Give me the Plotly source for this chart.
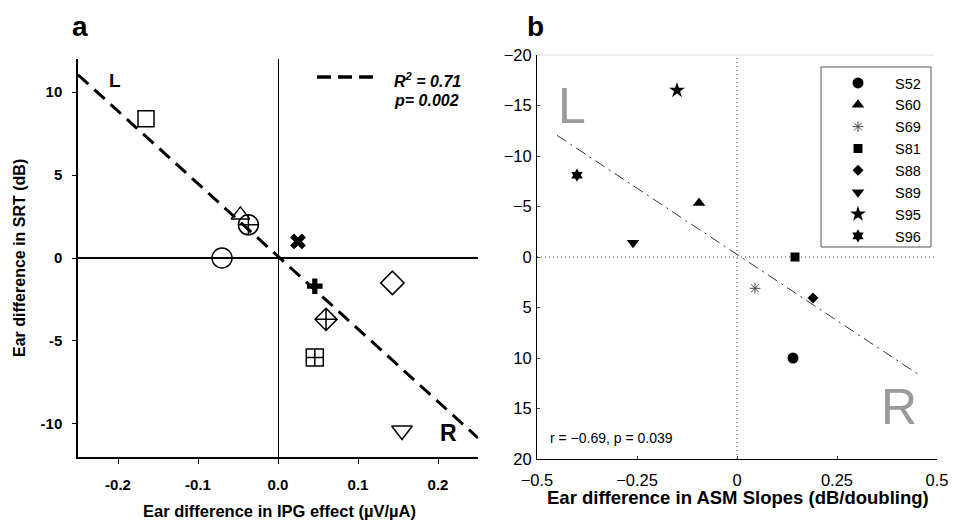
import plotly.graph_objects as go

# ---------------- Panel a data ----------------
a_x = [-0.165, -0.047, -0.037, -0.070, 0.025, 0.046, 0.143, 0.060, 0.046, 0.155]
a_y = [8.4, 2.6, 2.0, 0.0, 1.0, -1.7, -1.5, -3.7, -6.0, -10.4]
a_symbols = ["square-open", "triangle-up-open", "circle-cross-open", "circle-open", "x",
             "cross", "diamond-open", "diamond-cross-open", "square-cross-open", "triangle-down-open"]
a_sizes = [16, 16, 20, 20, 14, 13, 18, 17, 17, 18]
a_fit_x = [-0.25, 0.25]
a_fit_y = [11.05, -10.85]
a_xticks = [-0.2, -0.1, 0.0, 0.1, 0.2]
a_xticktext = ["-0.2", "-0.1", "0.0", "0.1", "0.2"]
a_yticks = [-10, -5, 0, 5, 10]
a_yticktext = ["-10", "-5", "0", "5", "10"]

# ---------------- Panel b data ----------------
b_names = ["S52", "S60", "S69", "S81", "S88", "S89", "S95", "S96"]
b_x = [0.14, -0.095, 0.045, 0.145, 0.19, -0.26, -0.15, -0.40]
b_y = [10.0, -5.35, 3.1, 0.0, 4.05, -1.4, -16.5, -8.1]
b_symbols = ["circle", "triangle-up", "asterisk-open", "square", "diamond",
             "triangle-down", "star", "hexagram"]
b_sizes = [11, 11, 9, 9, 8.5, 11, 12, 10]
b_fit_x = [-0.45, 0.46]
b_fit_y = [-12.05, 11.8]
b_xticks = [-0.5, -0.25, 0, 0.25, 0.5]
b_xticktext = ["\u22120.5", "\u22120.25", "0", "0.25", "0.5"]
b_yticks = [-20, -15, -10, -5, 0, 5, 10, 15, 20]
b_yticktext = ["\u221220", "\u221215", "\u221210", "\u22125", "0", "5", "10", "15", "20"]

W, H = 953, 521
def px(x):
    return x / W
def py(y):
    return 1 - y / H

FONT = "Liberation Sans, Arial, Helvetica, sans-serif"

fig = go.Figure()

# Panel a fit line
fig.add_trace(go.Scatter(x=a_fit_x, y=a_fit_y, mode="lines", xaxis="x", yaxis="y",
                         line=dict(color="black", width=3, dash="14px,8px"),
                         showlegend=False, hoverinfo="skip"))
for xx, yy, s, sz in zip(a_x, a_y, a_symbols, a_sizes):
    filled = not s.endswith("-open")
    fig.add_trace(go.Scatter(
        x=[xx], y=[yy], mode="markers", xaxis="x", yaxis="y", showlegend=False,
        marker=dict(symbol=s, size=sz, color="black",
                    line=dict(color="black", width=0 if filled else 1.5)),
        cliponaxis=False))

# Panel b fit line
fig.add_trace(go.Scatter(x=b_fit_x, y=b_fit_y, mode="lines", xaxis="x2", yaxis="y2",
                         line=dict(color="#333333", width=1, dash="11px,5px,2px,5px"),
                         showlegend=False, hoverinfo="skip"))
for name, xx, yy, s, sz in zip(b_names, b_x, b_y, b_symbols, b_sizes):
    col = "#444444" if s == "asterisk-open" else "black"
    fig.add_trace(go.Scatter(
        x=[xx], y=[yy], mode="markers", xaxis="x2", yaxis="y2", name=name,
        marker=dict(symbol=s, size=sz, color=col,
                    line=dict(color=col, width=1 if s == "asterisk-open" else 0)),
        cliponaxis=False))

axis_a_common = dict(showgrid=False, showline=True, linecolor="black", linewidth=1.5,
                     ticks="outside", tickcolor="black", tickwidth=1.2, automargin=False,
                     tickfont=dict(family=FONT, size=15, color="black", weight="bold"),
                     zeroline=True, zerolinecolor="black")

shapes = [
    dict(type="line", xref="x2", yref="y2 domain", x0=0, x1=0, y0=0, y1=1,
         line=dict(color="#444444", width=1, dash="1px,3px"), layer="below"),
    dict(type="line", xref="x2 domain", yref="y2", x0=0, x1=1, y0=0, y1=0,
         line=dict(color="#444444", width=1, dash="1px,3px"), layer="below"),
    dict(type="line", xref="x2 domain", yref="y2 domain", x0=0, x1=0.99, y0=1, y1=1,
         line=dict(color="#e8e8e8", width=1.5)),
    dict(type="rect", xref="paper", yref="paper", x0=px(821), x1=px(931), y0=py(67), y1=py(247),
         line=dict(color="#555555", width=1), fillcolor="rgba(255,255,255,0)"),
    dict(type="line", xref="paper", yref="paper", x0=px(317), x1=px(373), y0=py(77), y1=py(77),
         line=dict(color="black", width=3.5, dash="14px,7px")),
]

def ann(text, x, y, size, xanchor="center", yanchor="middle", **kw):
    return dict(text=text, x=x, y=y, xref=kw.pop("xref", "paper"), yref=kw.pop("yref", "paper"),
                xanchor=xanchor, yanchor=yanchor, showarrow=False,
                font=dict(family=FONT, size=size, color=kw.pop("color", "black")), **kw)

annotations = [
    ann("<b>a</b>", px(80), py(27), 28),
    ann("<b>b</b>", px(535), py(27), 28),
    ann("<b>L</b>", -0.204, 10.7, 19, xref="x", yref="y"),
    ann("<b>R</b>", 0.2125, -10.55, 23, xref="x", yref="y"),
    ann("<b><i>R<sup>2</sup> = 0.71</i></b>", px(392), py(80), 16, xanchor="left"),
    ann("<b><i>p= 0.002</i></b>", px(392), py(100), 16, xanchor="left"),
    ann("<b>Ear difference in SRT (dB)</b>", px(19), py(258), 16, textangle=-90),
    ann("<b>Ear difference in IPG effect (\u00b5V/\u00b5A)</b>", px(279), py(511), 16.5),
    ann("L", -0.4125, -15.0, 50, xref="x2", yref="y2", color="#9a9a9a"),
    ann("R", 0.405, 14.9, 50, xref="x2", yref="y2", color="#9a9a9a"),
    ann("r = \u22120.69, p = 0.039", -0.4725, 17.9, 14, xanchor="left", xref="x2", yref="y2"),
    ann("<b>Ear difference in ASM Slopes (dB/doubling)</b>", px(738), py(497), 18.5),
]

fig.update_layout(
    width=W, height=H, margin=dict(l=0, r=0, t=0, b=0, autoexpand=False),
    paper_bgcolor="white", plot_bgcolor="white",
    font=dict(family=FONT, color="black"),
    xaxis=dict(domain=[px(78), px(478)], range=[-0.25, 0.25], anchor="y",
               tickvals=a_xticks, ticktext=a_xticktext, ticklen=5, ticklabelstandoff=8,
               zerolinewidth=1, **axis_a_common),
    yaxis=dict(domain=[py(457), py(59)], range=[-12, 12], anchor="x",
               tickvals=a_yticks, ticktext=a_yticktext, ticklen=4, ticklabelstandoff=7,
               zerolinewidth=2, **axis_a_common),
    xaxis2=dict(domain=[px(537), px(937)], range=[-0.5, 0.5], anchor="y2", automargin=False,
                tickvals=b_xticks, ticktext=b_xticktext, showgrid=False, zeroline=False,
                showline=True, linecolor="black", linewidth=1, ticks="inside", ticklen=3,
                tickcolor="#444444", ticklabelstandoff=6,
                tickfont=dict(family=FONT, size=16.5, color="black")),
    yaxis2=dict(domain=[py(459), py(55)], range=[20, -20], anchor="x2", automargin=False,
                tickvals=b_yticks, ticktext=b_yticktext, showgrid=False, zeroline=False,
                showline=True, linecolor="black", linewidth=1, ticks="inside", ticklen=3,
                tickcolor="#444444", ticklabelstandoff=1,
                tickfont=dict(family=FONT, size=16.5, color="black")),
    legend=dict(x=px(821), y=py(67), xanchor="left", yanchor="top", itemwidth=64,
                bgcolor="rgba(0,0,0,0)", borderwidth=0,
                font=dict(family=FONT, size=14.5, color="black"), tracegroupgap=0),
    shapes=shapes, annotations=annotations,
)

fig.write_html("out.html")
